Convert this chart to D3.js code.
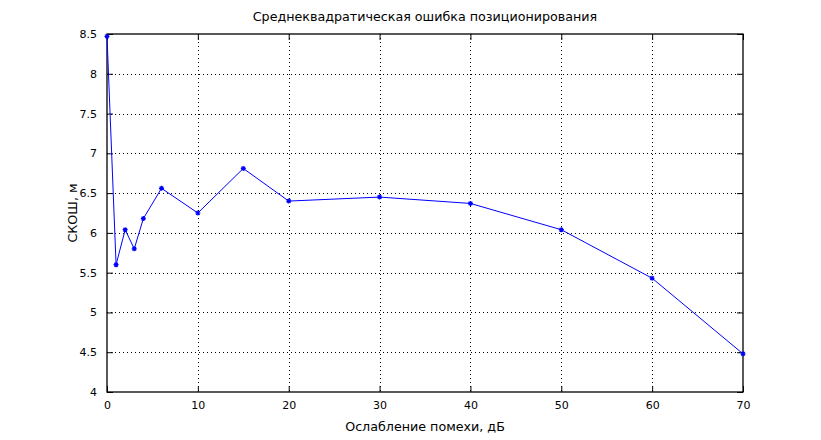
<!DOCTYPE html>
<html>
<head>
<meta charset="utf-8">
<script src="https://cdn.jsdelivr.net/npm/d3@7"></script>
<style>
	body { margin: 0; background: #fff; }
	text { font-family: "DejaVu Sans", sans-serif; fill: #000; }
</style>
</head>
<body>
<div id="chart"></div>
<script>
// data
var attenuation = [0, 1, 2, 3, 4, 6, 10, 15, 20, 30, 40, 50, 60, 70];
var rmsError = [8.47, 5.6, 6.04, 5.8, 6.18, 6.56, 6.25, 6.81, 6.40, 6.45, 6.37, 6.04, 5.43, 4.48];
var xTicks = [0, 10, 20, 30, 40, 50, 60, 70];
var yTicks = [4, 4.5, 5, 5.5, 6, 6.5, 7, 7.5, 8, 8.5];

var titleText = "Среднеквадратическая ошибка позиционирования",
	xLabel = "Ослабление помехи, дБ",
	yLabel = "СКОШ, м";

(function () {
	var width = 821, height = 440;
	var left = 107, right = 743, top = 34, bottom = 392;
	var tickLen = 6;

	var svg = d3.select("#chart").append("svg")
		.attr("width", width)
		.attr("height", height);

	var x = d3.scaleLinear().domain([0, 70]).range([left, right]),
		y = d3.scaleLinear().domain([4, 8.5]).range([bottom, top]);

	// dotted grid
	var grid = svg.append("g").attr("class", "grid")
		.attr("stroke", "#000").attr("stroke-width", 1)
		.attr("stroke-dasharray", "1,3").attr("shape-rendering", "crispEdges");
	grid.selectAll(".gx").data(xTicks.slice(1, -1)).enter().append("line")
		.attr("x1", function (d) { return Math.round(x(d)) + 0.5; })
		.attr("x2", function (d) { return Math.round(x(d)) + 0.5; })
		.attr("y1", top).attr("y2", bottom);
	grid.selectAll(".gy").data(yTicks.slice(1, -1)).enter().append("line")
		.attr("y1", function (d) { return Math.round(y(d)) + 0.5; })
		.attr("y2", function (d) { return Math.round(y(d)) + 0.5; })
		.attr("x1", left).attr("x2", right);

	// axes, inward ticks on all sides like matlab
	var fmt = function (d) { return String(d); };
	var axB = d3.axisBottom(x).tickValues(xTicks).tickSizeInner(-tickLen).tickSizeOuter(0).tickPadding(9).tickFormat(fmt);
	var axT = d3.axisTop(x).tickValues(xTicks).tickSizeInner(-tickLen).tickSizeOuter(0).tickFormat("");
	var axL = d3.axisLeft(y).tickValues(yTicks).tickSizeInner(-tickLen).tickSizeOuter(0).tickPadding(10).tickFormat(fmt);
	var axR = d3.axisRight(y).tickValues(yTicks).tickSizeInner(-tickLen).tickSizeOuter(0).tickFormat("");

	function style(g) {
		g.attr("font-size", null).attr("font-family", null);
		g.selectAll("text").attr("font-size", "11px").attr("fill", "#000");
		g.selectAll("line").attr("stroke", "#000");
		g.select(".domain").remove();
	}
	svg.append("g").attr("transform", "translate(0," + bottom + ")").call(axB).call(style);
	svg.append("g").attr("transform", "translate(0," + top + ")").call(axT).call(style);
	svg.append("g").attr("transform", "translate(" + left + ",0)").call(axL).call(style);
	svg.append("g").attr("transform", "translate(" + right + ",0)").call(axR).call(style);

	svg.append("rect").attr("x", left).attr("y", top)
		.attr("width", right - left).attr("height", bottom - top)
		.attr("fill", "none").attr("stroke", "#000").attr("stroke-width", 1.3);

	// series
	var pts = attenuation.map(function (d, i) { return { x: d, y: rmsError[i] }; });
	var line = d3.line().x(function (d) { return x(d.x); }).y(function (d) { return y(d.y); });
	svg.append("path").datum(pts).attr("d", line)
		.attr("fill", "none").attr("stroke", "#0000ff").attr("stroke-width", 1);

	var r = 2.5;
	svg.selectAll(".mark").data(pts).enter().append("path").attr("class", "mark")
		.attr("transform", function (d) { return "translate(" + x(d.x) + "," + y(d.y) + ")"; })
		.attr("d", "M" + (-r) + ",0H" + r + "M0," + (-r) + "V" + r +
			"M-1.8,-1.8L1.8,1.8M-1.8,1.8L1.8,-1.8")
		.attr("stroke", "#0000ff").attr("stroke-width", 1.2).attr("fill", "none");

	// labels
	svg.append("text").attr("x", (left + right) / 2).attr("y", 21)
		.attr("text-anchor", "middle").attr("font-size", "12.7px").text(titleText);
	svg.append("text").attr("x", (left + right) / 2).attr("y", 431)
		.attr("text-anchor", "middle").attr("font-size", "12.7px").text(xLabel);
	svg.append("text")
		.attr("transform", "translate(77," + (top + bottom) / 2 + ") rotate(-90)")
		.attr("text-anchor", "middle").attr("font-size", "12.7px").text(yLabel);
})();
</script>
</body>
</html>
